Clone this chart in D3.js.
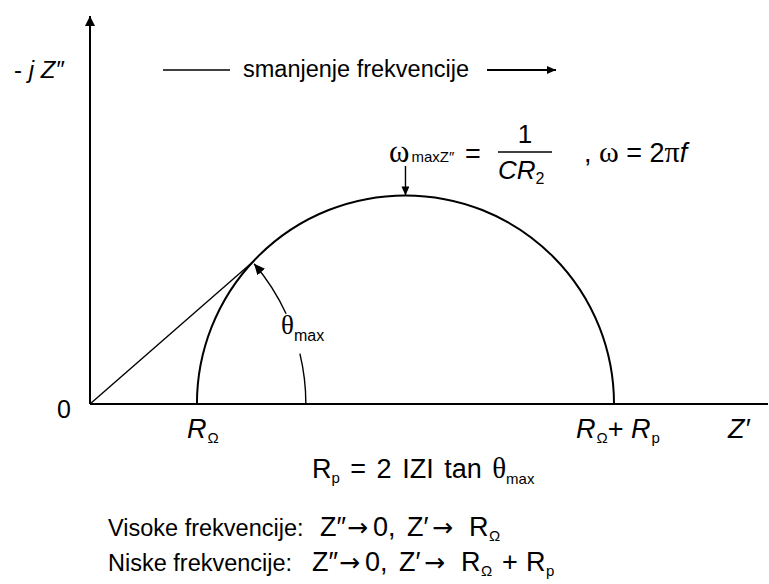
<!DOCTYPE html>
<html>
<head>
<meta charset="utf-8">
<script src="https://cdn.jsdelivr.net/npm/d3@7"></script>
<style>
  body { margin: 0; background: #fff; }
  text { font-family: "Liberation Sans", Arial, sans-serif; fill: #000; }
</style>
</head>
<body>
<script>
// Nyquist plot values (Z' units)
const rOhm = 10;          // R_Omega
const rP = 39;            // R_p
const zReDomain = [0, 63.4];
const zImDomain = [0, 36.3];
const thetaMaxDeg = 41.1;
const thetaGapDeg = [13.5, 24.7];   // gap in the angle arc for its label

// texts
const axisTitles = { y: ["-", "j", "Z″"], x: "Z′" };
const tickLabels = ["0", "R", "R", "R"];
const freqText = "smanjenje frekvencije";
const limitNames = ["Visoke frekvencije:", "Niske frekvencije:"];
const limitParts = [
  ["Z″", "→", "0,", "Z′", "→", "R", "Ω"],
  ["Z″", "→", "0,", "Z′", "→", "R", "Ω", "+", "R", "p"]
];

const W = 769, H = 584;
const svg = d3.select("body").append("svg").attr("width", W).attr("height", H);

const x = d3.scaleLinear().domain(zReDomain).range([90, 768]);
const y = d3.scaleLinear().domain(zImDomain).range([404, 16]);

// arrow markers
const defs = svg.append("defs");
function marker(id, len, wid) {
  defs.append("marker")
    .attr("id", id)
    .attr("viewBox", `0 0 ${len} ${wid}`)
    .attr("refX", len).attr("refY", wid / 2)
    .attr("markerWidth", len).attr("markerHeight", wid)
    .attr("markerUnits", "userSpaceOnUse")
    .attr("orient", "auto")
    .append("path")
    .attr("d", `M0,0L${len},${wid / 2}L0,${wid}Z`)
    .attr("fill", "#000");
}
marker("arrBig", 10, 10);
marker("arrMid", 9, 8);
marker("arrArc", 11, 10);

// axes
svg.append("line")
  .attr("x1", x(0)).attr("y1", y(0)).attr("x2", x(0)).attr("y2", y(zImDomain[1]))
  .attr("stroke", "#000").attr("stroke-width", 2).attr("marker-end", "url(#arrBig)");
svg.append("line")
  .attr("x1", x(0)).attr("y1", y(0)).attr("x2", x(zReDomain[1])).attr("y2", y(0))
  .attr("stroke", "#000").attr("stroke-width", 2);

// semicircle
const cx = x(rOhm + rP / 2), cy = y(0);
const r = x(rOhm + rP) - cx;
const semi = d3.path();
semi.moveTo(x(rOhm), cy);
semi.arc(cx, cy, r, Math.PI, 2 * Math.PI);
svg.append("path").attr("d", semi.toString())
  .attr("fill", "none").attr("stroke", "#000").attr("stroke-width", 2);

// line from origin at theta_max to the circle
const th = thetaMaxDeg * Math.PI / 180;
const ox = x(0), oy = y(0);
const c = cx - ox;
const b = c * Math.cos(th);
const t = b - Math.sqrt(b * b - (c * c - r * r));
svg.append("line")
  .attr("x1", ox).attr("y1", oy)
  .attr("x2", ox + t * Math.cos(th)).attr("y2", oy - t * Math.sin(th))
  .attr("stroke", "#000").attr("stroke-width", 1.4);

// angle arc (two pieces around the label)
const g0 = thetaGapDeg[0] * Math.PI / 180, g1 = thetaGapDeg[1] * Math.PI / 180;
const a1 = d3.path();
a1.moveTo(ox + t, oy);
a1.arc(ox, oy, t, 0, -g0, true);
svg.append("path").attr("d", a1.toString())
  .attr("fill", "none").attr("stroke", "#000").attr("stroke-width", 1.4);
const a2 = d3.path();
a2.moveTo(ox + t * Math.cos(g1), oy - t * Math.sin(g1));
a2.arc(ox, oy, t, -g1, -th + 0.01, true);
svg.append("path").attr("d", a2.toString())
  .attr("fill", "none").attr("stroke", "#000").attr("stroke-width", 1.4)
  .attr("marker-end", "url(#arrArc)");

// theta_max label
const thl = svg.append("text").attr("x", 281).attr("y", 334).style("font-size", "27px");
thl.append("tspan").text("θ").style("font-family", "Liberation Serif");
thl.append("tspan").text("max").attr("dy", 7).style("font-size", "16px");

// omega_max arrow
svg.append("line")
  .attr("x1", cx).attr("y1", 166).attr("x2", cx).attr("y2", cy - r)
  .attr("stroke", "#000").attr("stroke-width", 1.4).attr("marker-end", "url(#arrMid)");

// omega formula
const om = svg.append("text").attr("x", 389).attr("y", 162).style("font-size", "31px");
om.append("tspan").text("ω").style("font-family", "Liberation Serif");
om.append("tspan").text("maxZ″").attr("dx", 2).style("font-size", "15px");
svg.append("text").attr("x", 465).attr("y", 163).style("font-size", "27px").text("=");
svg.append("text").attr("x", 525).attr("y", 143).attr("text-anchor", "middle")
  .style("font-size", "26px").text("1");
svg.append("line").attr("x1", 498).attr("x2", 552).attr("y1", 152).attr("y2", 152)
  .attr("stroke", "#000").attr("stroke-width", 1.3);
const cr = svg.append("text").attr("x", 498).attr("y", 179)
  .style("font-size", "26px").style("font-style", "italic");
cr.append("tspan").text("CR");
cr.append("tspan").text("2").attr("dy", 5).style("font-size", "16px").style("font-style", "normal");
const om2 = svg.append("text").attr("x", 584).attr("y", 162).style("font-size", "27px");
om2.append("tspan").text(",  ");
om2.append("tspan").text("ω").style("font-family", "Liberation Serif").style("font-size", "30px");
om2.append("tspan").text(" = 2");
om2.append("tspan").text("π").style("font-family", "Liberation Serif").style("font-size", "30px");
om2.append("tspan").text("f").style("font-style", "italic");

// top frequency arrow
svg.append("line").attr("x1", 163).attr("x2", 230).attr("y1", 70).attr("y2", 70)
  .attr("stroke", "#000").attr("stroke-width", 1.3);
svg.append("text").attr("x", 243).attr("y", 77).style("font-size", "23.5px").text(freqText);
svg.append("line").attr("x1", 487).attr("x2", 556).attr("y1", 70).attr("y2", 70)
  .attr("stroke", "#000").attr("stroke-width", 2).attr("marker-end", "url(#arrMid)");

// y axis title
const yt = svg.append("text").attr("x", 14).attr("y", 78).style("font-size", "24px");
yt.append("tspan").text(axisTitles.y[0] + " ");
yt.append("tspan").text(axisTitles.y[1] + " ").style("font-style", "italic");
yt.append("tspan").text(axisTitles.y[2]).style("font-style", "italic");

// tick labels on Z' axis
svg.append("text").attr("x", 57).attr("y", 418).style("font-size", "25px").text(tickLabels[0]);
const t1 = svg.append("text").attr("x", x(rOhm) - 10).attr("y", 438).style("font-size", "27px");
t1.append("tspan").text(tickLabels[1]).style("font-style", "italic");
t1.append("tspan").text("Ω").attr("dy", 5).attr("dx", 1).style("font-size", "15px");
const t2 = svg.append("text").attr("x", x(rOhm + rP) - 38).attr("y", 438).style("font-size", "27px");
t2.append("tspan").text(tickLabels[2]).style("font-style", "italic");
t2.append("tspan").text("Ω").attr("dy", 5).attr("dx", 1).style("font-size", "15px");
t2.append("tspan").text("+ ").attr("dy", -5);
t2.append("tspan").text(tickLabels[3]).style("font-style", "italic");
t2.append("tspan").text("p").attr("dy", 5).attr("dx", 1).style("font-size", "15px");
svg.append("text").attr("x", 728).attr("y", 438).style("font-size", "27px")
  .style("font-style", "italic").text(axisTitles.x);

// R_p formula
const rf = svg.append("text").attr("x", 312).attr("y", 478).style("font-size", "27px")
  .style("word-spacing", "3px");
rf.append("tspan").text("R");
rf.append("tspan").text("p").attr("dy", 5).style("font-size", "15px");
rf.append("tspan").text(" = 2 IZI tan ").attr("dy", -5);
rf.append("tspan").text("θ").style("font-family", "Liberation Serif").style("font-size", "29px");
rf.append("tspan").text("max").attr("dy", 6).style("font-size", "15px");

// limits: piece offsets relative to the first Z
const lineX = [320, 312];
const partDx = [0, 27, 53, 87, 112, 149, 169, 190, 214, 234];
limitNames.forEach((name, i) => {
  const by = 536 + i * 35;
  svg.append("text").attr("x", 108).attr("y", by).style("font-size", "23.5px").text(name);
  const tx = svg.append("text").attr("y", by).style("font-size", "27px");
  limitParts[i].forEach((s, k) => {
    const sub = s === "Ω" || s === "p";
    const sp = tx.append("tspan").text(s)
      .attr("x", lineX[i] + partDx[k])
      .attr("y", sub ? by + 5 : by);
    if (s === "→") sp.style("font-family", "DejaVu Sans").style("font-size", "25px");
    if (sub) sp.style("font-size", "15px");
  });
});
</script>
</body>
</html>
